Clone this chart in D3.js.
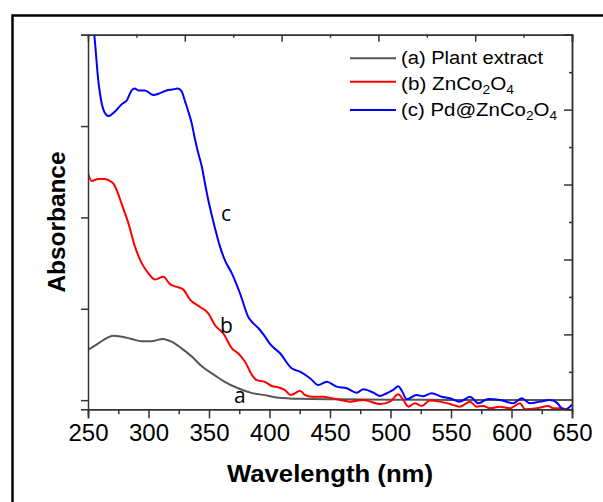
<!DOCTYPE html>
<html>
<head>
<meta charset="utf-8">
<script src="https://cdn.jsdelivr.net/npm/d3@7"></script>
<style>
    body { margin: 0; background: #fff; }
    svg { display: block; }
    .axis path, .axis line { stroke: #333; stroke-width: 1.5; }
</style>
</head>
<body>
<div id="chart"></div>
<script>
// (a) Plant extract
let wlA  = [250, 256, 263, 271, 278, 286, 294, 302, 312, 319, 327, 336, 344, 354, 363, 374, 385, 396, 406, 425, 458, 500, 550, 600, 650];
let absA = [0.55, 0.60, 0.66, 0.705, 0.695, 0.67, 0.645, 0.645, 0.67, 0.64, 0.57, 0.475, 0.37, 0.28, 0.20, 0.13, 0.08, 0.055, 0.03, 0.015, 0.01, 0.005, 0.003, 0.002, 0.002];

// (b) ZnCo2O4
let wlB  = [250, 253, 258.5, 264, 268, 271, 273.7, 278, 283.3, 288.8, 294.4, 299.8, 305.4, 312.2, 317.8, 323.3, 328.8, 334.3, 342.6, 349.4, 355, 361.8, 368.8, 374.2, 379.8, 385.3, 389.4, 396.3, 401.8, 407.3, 412.8, 417.5, 421.1, 425.2, 429.3, 434.9, 444.5, 451.4, 458.3, 466.5, 477.5, 491.3, 499.6, 506.4, 510.6, 514.7, 520.2, 525.8, 532.6, 540.9, 549.2, 557.4, 565.7, 571.2, 576.7, 582.2, 590.5, 598.8, 607, 611.2, 620.8, 630.4, 634.5, 641.5, 648.3, 650];
let absB = [2.48, 2.40, 2.42, 2.42, 2.40, 2.37, 2.30, 2.14, 1.94, 1.68, 1.50, 1.39, 1.32, 1.35, 1.27, 1.24, 1.21, 1.10, 1.02, 0.95, 0.82, 0.73, 0.57, 0.51, 0.42, 0.28, 0.22, 0.20, 0.155, 0.14, 0.11, 0.057, 0.076, 0.104, 0.057, 0.038, 0.038, 0.021, 0.002, -0.016, 0.002, -0.042, -0.016, 0.065, 0.002, -0.071, -0.034, -0.063, -0.005, -0.016, -0.042, -0.071, -0.016, -0.071, -0.063, -0.089, -0.071, -0.089, -0.034, -0.10, -0.089, -0.063, -0.089, -0.089, -0.107, -0.10];

// (c) Pd@ZnCo2O4
let wlC  = [250, 252, 255.2, 258.5, 261.3, 264.6, 266.8, 272.3, 277.9, 282, 286.1, 288.8, 291.6, 297.1, 304, 309.5, 315, 319.7, 324.1, 327.4, 330.2, 332.9, 335.7, 338.5, 341.2, 344, 346.7, 349.4, 352.2, 355, 359.1, 363.2, 368.8, 375.6, 382.5, 386.6, 390.7, 396.3, 400.4, 408.7, 418.3, 425.2, 433.5, 440.3, 447.3, 455.5, 463.8, 472.1, 477.5, 485.8, 491.3, 496.9, 502.3, 506.4, 509.2, 513.4, 521.6, 527.1, 534, 542.3, 549.2, 557.4, 565.7, 572.6, 580.8, 590.5, 601.5, 608.4, 615.3, 623.6, 631.8, 637.4, 641.5, 644.2, 648.3, 650];
let absC = [4.7, 4.35, 4.0, 3.50, 3.25, 3.13, 3.11, 3.16, 3.24, 3.28, 3.39, 3.41, 3.39, 3.39, 3.34, 3.36, 3.39, 3.40, 3.41, 3.38, 3.27, 3.16, 3.03, 2.85, 2.70, 2.56, 2.37, 2.19, 2.03, 1.88, 1.68, 1.53, 1.39, 1.17, 0.91, 0.84, 0.79, 0.695, 0.615, 0.513, 0.349, 0.312, 0.24, 0.166, 0.202, 0.148, 0.13, 0.082, 0.119, 0.082, 0.046, 0.076, 0.112, 0.152, 0.106, 0.01, 0.057, 0.043, 0.076, 0.038, 0.021, -0.016, 0.038, -0.034, 0.013, 0.002, -0.034, 0.021, -0.034, -0.016, 0.002, -0.027, -0.089, -0.107, -0.071, -0.05];

let xTicks = [250, 300, 350, 400, 450, 500, 550, 600, 650];
let xMinorTicks = [275, 325, 375, 425, 475, 525, 575, 625];
let yTicks = [0, 1, 2, 3, 4];
let frameTicks = [1, 2, 3, 4, 5];
let frameMinorTicks = [0.5, 1.5, 2.5, 3.5, 4.5];

let legendNames = ["(a) Plant extract", "(b) ZnCo", "(c) Pd@ZnCo"];
let curveLetters = ["a", "b", "c"];
let colors = ["#555555", "#ff0000", "#0000ff"];

let width = 603, height = 502;

let svg = d3.select("#chart").append("svg")
    .attr("width", width)
    .attr("height", height);

// outer frame
svg.append("rect")
    .attr("x", 12.5)
    .attr("y", 15.5)
    .attr("width", 700)
    .attr("height", 600)
    .attr("fill", "none")
    .attr("stroke", "#000")
    .attr("stroke-width", 2.5);

let x = d3.scaleLinear().domain([250, 650]).range([88, 572]);
let y = d3.scaleLinear().domain([-0.1, 4.0]).range([409.3, 34.7]);
// opposite axes carry their own (unlabelled) tick spacing
let xTop = d3.scaleLinear().domain([0, 5]).range([88, 572]);
let yRight = d3.scaleLinear().domain([0, 5]).range([409.3, 34.7]);

svg.append("defs").append("clipPath")
    .attr("id", "plotclip")
    .append("rect")
    .attr("x", x.range()[0])
    .attr("y", y.range()[1])
    .attr("width", x.range()[1] - x.range()[0])
    .attr("height", y.range()[0] - y.range()[1]);

// curves
let line = d3.line()
    .x(d => x(d[0]))
    .y(d => y(d[1]))
    .curve(d3.curveMonotoneX);

let series = [
    d3.zip(wlA, absA),
    d3.zip(wlB, absB),
    d3.zip(wlC, absC)
];

series.forEach((s, i) => {
    svg.append("path")
        .datum(s)
        .attr("clip-path", "url(#plotclip)")
        .attr("fill", "none")
        .attr("stroke", colors[i])
        .attr("stroke-width", 2)
        .attr("stroke-linejoin", "round")
        .attr("d", line);
});

// minor ticks first so majors sit on top
svg.append("g")
    .attr("class", "axis")
    .attr("transform", "translate(0," + y.range()[0] + ")")
    .call(d3.axisBottom(x).tickValues(xMinorTicks).tickSize(5).tickFormat(""));

svg.append("g")
    .attr("class", "axis")
    .attr("transform", "translate(0," + y.range()[1] + ")")
    .call(d3.axisTop(xTop).tickValues(frameMinorTicks).tickSize(-3).tickFormat(""));

svg.append("g")
    .attr("class", "axis")
    .attr("transform", "translate(0," + y.range()[1] + ")")
    .call(d3.axisTop(xTop).tickValues(frameTicks).tickSize(-7).tickFormat(""));

svg.append("g")
    .attr("class", "axis")
    .attr("transform", "translate(" + x.range()[1] + ",0)")
    .call(d3.axisRight(yRight).tickValues(frameMinorTicks).tickSize(-3).tickFormat(""));

svg.append("g")
    .attr("class", "axis")
    .attr("transform", "translate(" + x.range()[1] + ",0)")
    .call(d3.axisRight(yRight).tickValues(frameTicks).tickSize(-8).tickFormat(""));

svg.append("g")
    .attr("class", "axis")
    .attr("transform", "translate(" + x.range()[0] + ",0)")
    .call(d3.axisLeft(y).tickValues(yTicks).tickSize(7).tickFormat(""));

let xAxis = svg.append("g")
    .attr("class", "axis")
    .attr("transform", "translate(0," + y.range()[0] + ")")
    .call(d3.axisBottom(x).tickValues(xTicks).tickSize(9).tickPadding(6));

xAxis.selectAll("text")
    .style("font-family", "Liberation Sans, Arial, sans-serif")
    .style("font-size", "24px")
    .attr("fill", "#000");

// axis titles
svg.append("text")
    .attr("x", (x.range()[0] + x.range()[1]) / 2)
    .attr("y", 482)
    .attr("text-anchor", "middle")
    .attr("textLength", 206)
    .attr("lengthAdjust", "spacingAndGlyphs")
    .style("font-family", "Liberation Sans, Arial, sans-serif")
    .style("font-size", "24px")
    .style("font-weight", "bold")
    .text("Wavelength (nm)");

svg.append("text")
    .attr("transform", "translate(65," + ((y.range()[0] + y.range()[1]) / 2) + ") rotate(-90)")
    .attr("text-anchor", "middle")
    .attr("textLength", 141)
    .attr("lengthAdjust", "spacingAndGlyphs")
    .style("font-family", "Liberation Sans, Arial, sans-serif")
    .style("font-size", "24px")
    .style("font-weight", "bold")
    .text("Absorbance");

// legend
let legendLineY = [58.3, 81.7, 110];
let legendTextY = [64.3, 90, 116];
let legendLen = [142, 113, 156];

legendNames.forEach((name, i) => {
    svg.append("line")
        .attr("x1", 350)
        .attr("x2", 396)
        .attr("y1", legendLineY[i])
        .attr("y2", legendLineY[i])
        .attr("stroke", colors[i])
        .attr("stroke-width", 2);

    let t = svg.append("text")
        .attr("x", 401)
        .attr("y", legendTextY[i])
        .attr("textLength", legendLen[i])
        .attr("lengthAdjust", "spacingAndGlyphs")
        .style("font-family", "Liberation Sans, Arial, sans-serif")
        .style("font-size", "18px")
        .text(name);

    if (i > 0) {
        t.append("tspan").attr("dy", 4).style("font-size", "12px").text("2");
        t.append("tspan").attr("dy", -4).text("O");
        t.append("tspan").attr("dy", 4).style("font-size", "12px").text("4");
    }
});

// curve letters
let letterX = [234, 220, 221];
let letterY = [403, 333, 221];
curveLetters.forEach((c, i) => {
    svg.append("text")
        .attr("x", letterX[i])
        .attr("y", letterY[i])
        .style("font-family", "Open Sans, sans-serif")
        .style("font-size", "21px")
        .attr("fill", "#000")
        .text(c);
});
</script>
</body>
</html>
